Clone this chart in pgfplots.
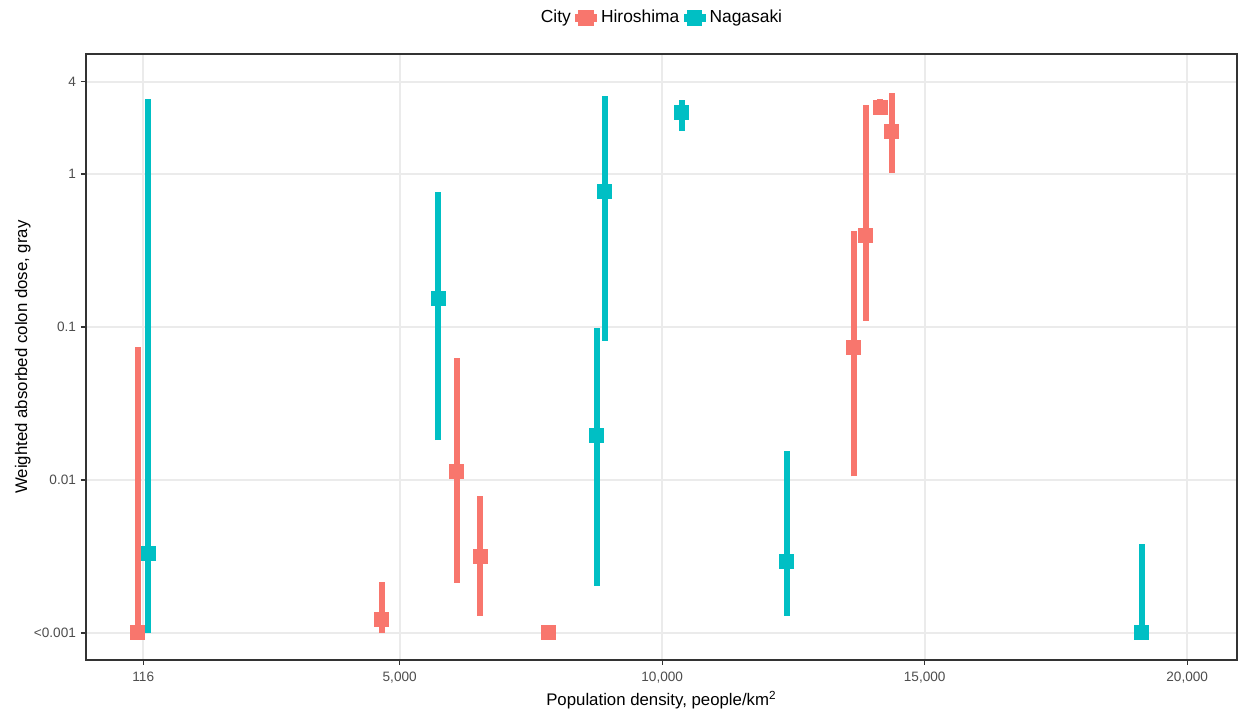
\documentclass[border=0pt]{standalone}
\usepackage{fontspec}
\setmainfont{Liberation Sans}
\usepackage{pgfplots}
\pgfplotsset{compat=1.18}
\definecolor{hiro}{HTML}{F8766D}
\definecolor{naga}{HTML}{00BFC4}
\definecolor{gridc}{HTML}{EBEBEB}
\definecolor{axc}{HTML}{333333}
\definecolor{tickc}{HTML}{4D4D4D}
\begin{document}
\begin{tikzpicture}
\useasboundingbox (0,0) rectangle (619pt,356.5pt);
\begin{axis}[
  at={(43pt,26.5pt)}, anchor=south west,
  scale only axis, width=575.5pt, height=303pt,
  xmin=-975, xmax=20949,
  ymode=log, ymin=0.000666, ymax=6.085,
  scaled x ticks=false,
  xtick={116,5000,10000,15000,20000},
  xticklabels={116,{5,000},{10,000},{15,000},{20,000}},
  ytick={0.001,0.01,0.1,1,4},
  yticklabels={{<0.001},0.01,0.1,1,4},
  minor ytick={}, minor xtick={},
  tick align=outside, tick pos=left,
  major tick length=2.5pt,
  every tick/.style={axc, line width=0.6pt},
  tick label style={font=\fontsize{6.8}{7.8}\selectfont, text=tickc},
  xticklabel style={yshift=0pt},
  yticklabel style={xshift=1pt},
  axis line style={axc, line width=0.6pt},
  grid=major, major grid style={gridc, line width=0.9pt},
  xlabel={Population density, people/km\textsuperscript{2}},
  ylabel={Weighted absorbed colon dose, gray},
  label style={font=\fontsize{8.4}{10}\selectfont},
  xlabel style={at={(axis description cs:0.5,-0.07426)}, anchor=base},
  ylabel style={at={(axis description cs:-0.05126,0.5)}, anchor=base},
  legend style={at={(axis description cs:0.5,1)}, yshift=18pt, anchor=center,
    draw=none, fill=none, font=\fontsize{8.7}{10}\selectfont, inner sep=0pt,
    column sep=0pt, nodes={inner sep=2.1pt}},
  legend columns=3,
]
% ranges Hiroshima
\addplot[hiro, line width=3pt, forget plot] coordinates {(15,0.001) (15,0.0741)};
\addplot[hiro, line width=3pt, forget plot] coordinates {(4663,0.001) (4663,0.00214)};
\addplot[hiro, line width=3pt, forget plot] coordinates {(6086,0.00213) (6086,0.0628)};
\addplot[hiro, line width=3pt, forget plot] coordinates {(6530,0.0013) (6530,0.00782)};
\addplot[hiro, line width=3pt, forget plot] coordinates {(13653,0.01057) (13653,0.427)};
\addplot[hiro, line width=3pt, forget plot] coordinates {(13876,0.110) (13876,2.82)};
\addplot[hiro, line width=3pt, forget plot] coordinates {(14149,2.5) (14149,3.10)};
\addplot[hiro, line width=3pt, forget plot] coordinates {(14371,1.02) (14371,3.37)};
% ranges Nagasaki
\addplot[naga, line width=3pt, forget plot] coordinates {(211,0.001) (211,3.09)};
\addplot[naga, line width=3pt, forget plot] coordinates {(5730,0.0182) (5730,0.758)};
\addplot[naga, line width=3pt, forget plot] coordinates {(8758,0.00204) (8758,0.0988)};
\addplot[naga, line width=3pt, forget plot] coordinates {(8910,0.0812) (8910,3.23)};
\addplot[naga, line width=3pt, forget plot] coordinates {(10377,1.91) (10377,3.04)};
\addplot[naga, line width=3pt, forget plot] coordinates {(12377,0.0013) (12377,0.0154)};
\addplot[naga, line width=3pt, forget plot] coordinates {(19139,0.001) (19139,0.00379)};
% points
\addplot[hiro, only marks, mark=square*, mark size=3.5pt, line width=0pt,
  mark options={solid, fill=hiro, draw=hiro, line width=0pt}, forget plot]
 coordinates {(15,0.001) (4663,0.00122) (6086,0.0114) (6530,0.00316) (7844,0.001)
   (13653,0.0731) (13876,0.396) (14149,2.71) (14371,1.91)};
\addplot[naga, only marks, mark=square*, mark size=3.5pt, line width=0pt,
  mark options={solid, fill=naga, draw=naga, line width=0pt}, forget plot]
 coordinates {(211,0.00331) (5730,0.153) (8758,0.0196) (8910,0.771) (10377,2.54)
   (12377,0.00293) (19139,0.001)};
% legend
\addlegendimage{empty legend}
\addlegendentry{City}
\addlegendimage{legend image code/.code={
  \fill[hiro] (0pt,-1.6pt) rectangle (10.5pt,1.6pt);
  \fill[hiro] (1.6pt,-3.6pt) rectangle (8.9pt,3.6pt);}}
\addlegendentry{Hiroshima}
\addlegendimage{legend image code/.code={
  \fill[naga] (0pt,-1.6pt) rectangle (10.5pt,1.6pt);
  \fill[naga] (1.6pt,-3.6pt) rectangle (8.9pt,3.6pt);}}
\addlegendentry{Nagasaki}
\end{axis}
\end{tikzpicture}
\end{document}
